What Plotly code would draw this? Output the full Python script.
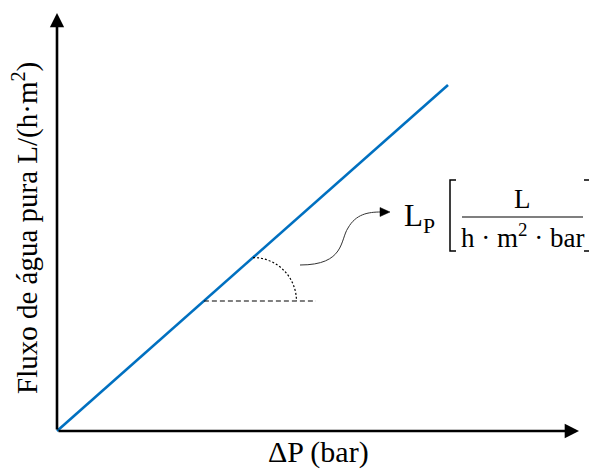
import plotly.graph_objects as go

# ---- data (schematic) ----
delta_p = [0, 10]          # ΔP (bar), arbitrary units
flux = [0, 8.85]           # water flux, L/(h·m2)
x_label = "ΔP (bar)"
y_label = "Fluxo de água pura L/(h·m<sup>2</sup>)"
lp_label = "L<sub>P</sub>"
frac_num = "L"
frac_den = "h · m<sup>2</sup> · bar"

OFF = 8                    # page body margin
W, H = 597 - OFF, 469 - OFF
PX = 39.1                  # pixels per data unit
OX, OY = 57 - OFF, 431 - OFF   # pixel position of origin inside the figure

def px(x):  # window pixel -> paper x
    return (x - OFF) / W
def py(y):  # window pixel -> paper y
    return 1 - (y - OFF) / H
def dx(x):  # window pixel -> data x
    return (x - OFF - OX) / PX
def dy(y):  # window pixel -> data y
    return (OY - (y - OFF)) / PX

FONT = "Liberation Serif"
BLUE = "#0070C0"

fig = go.Figure()
fig.add_trace(go.Scatter(x=delta_p, y=flux, mode="lines",
                         line=dict(color=BLUE, width=2.6), hoverinfo="skip",
                         showlegend=False))

slope = flux[1] / delta_p[1]

shapes = []
annotations = []

# axes as arrows
annotations.append(dict(x=dx(579), y=0, ax=0, ay=0, xref="x", yref="y", axref="x", ayref="y",
                        showarrow=True, arrowhead=2, arrowsize=1.1, arrowwidth=2.6,
                        arrowcolor="black", text=""))
annotations.append(dict(x=0, y=dy(13), ax=0, ay=0, xref="x", yref="y", axref="x", ayref="y",
                        showarrow=True, arrowhead=2, arrowsize=1.1, arrowwidth=2.6,
                        arrowcolor="black", text=""))

# horizontal dashed reference line
y_ref = dy(301)
x_start = y_ref / slope
shapes.append(dict(type="line", xref="x", yref="y", x0=x_start, x1=dx(316),
                   y0=y_ref, y1=y_ref, line=dict(color="black", width=1.2, dash="5px,3px")))

# dotted quarter arc (angle indicator)
cx = dx(253)
r = slope * cx - y_ref
k = 0.5523
path = (f"M {cx},{y_ref + r} C {cx + k*r},{y_ref + r} {cx + r},{y_ref + k*r} {cx + r},{y_ref}")
shapes.append(dict(type="path", xref="x", yref="y", path=path,
                   line=dict(color="black", width=1.2, dash="2px,2px")))

# curved arrow pointing to the label
cpath = (f"M {px(300)},{py(265)} C {px(345)},{py(265)} {px(340)},{py(240)} {px(348)},{py(228)} "
         f"C {px(356)},{py(214)} {px(368)},{py(212)} {px(381)},{py(212)}")
shapes.append(dict(type="path", xref="paper", yref="paper", path=cpath,
                   line=dict(color="#333333", width=1)))
tri = f"M {px(380)},{py(207.5)} L {px(390)},{py(212)} L {px(380)},{py(216.5)} Z"
shapes.append(dict(type="path", xref="paper", yref="paper", path=tri,
                   line=dict(color="black", width=0.5), fillcolor="black"))

# brackets
for xb, d in [(450, 6), (590, -6)]:
    bp = (f"M {px(xb + d)},{py(180)} L {px(xb)},{py(180)} L {px(xb)},{py(251)} "
          f"L {px(xb + d)},{py(251)}")
    shapes.append(dict(type="path", xref="paper", yref="paper", path=bp,
                       line=dict(color="black", width=1.5)))
# fraction bar
shapes.append(dict(type="line", xref="paper", yref="paper", x0=px(462), x1=px(583),
                   y0=py(217), y1=py(217), line=dict(color="black", width=1.2)))

# texts
annotations += [
    dict(x=px(402), y=py(218), xref="paper", yref="paper", text=lp_label, showarrow=False,
         xanchor="left", yanchor="middle", font=dict(family=FONT, size=31, color="black")),
    dict(x=px(522), y=py(199), xref="paper", yref="paper", text=frac_num, showarrow=False,
         xanchor="center", yanchor="middle", font=dict(family=FONT, size=27, color="black")),
    dict(x=px(522), y=py(236), xref="paper", yref="paper", text=frac_den, showarrow=False,
         xanchor="center", yanchor="middle", font=dict(family=FONT, size=27, color="black")),
    dict(x=px(318), y=py(452), xref="paper", yref="paper", text=x_label, showarrow=False,
         xanchor="center", yanchor="middle", font=dict(family=FONT, size=30, color="black")),
    dict(x=px(26), y=py(228), xref="paper", yref="paper", text=y_label, showarrow=False,
         textangle=-90, xanchor="center", yanchor="middle",
         font=dict(family=FONT, size=29, color="black")),
]

fig.update_layout(
    width=W, height=H, margin=dict(l=0, r=0, t=0, b=0),
    paper_bgcolor="white", plot_bgcolor="white",
    font=dict(family=FONT),
    xaxis=dict(range=[-OX / PX, (W - OX) / PX], visible=False, fixedrange=True),
    yaxis=dict(range=[-(H - OY) / PX, OY / PX], visible=False, fixedrange=True),
    shapes=shapes, annotations=annotations, showlegend=False,
)
fig.write_html("out.html")
